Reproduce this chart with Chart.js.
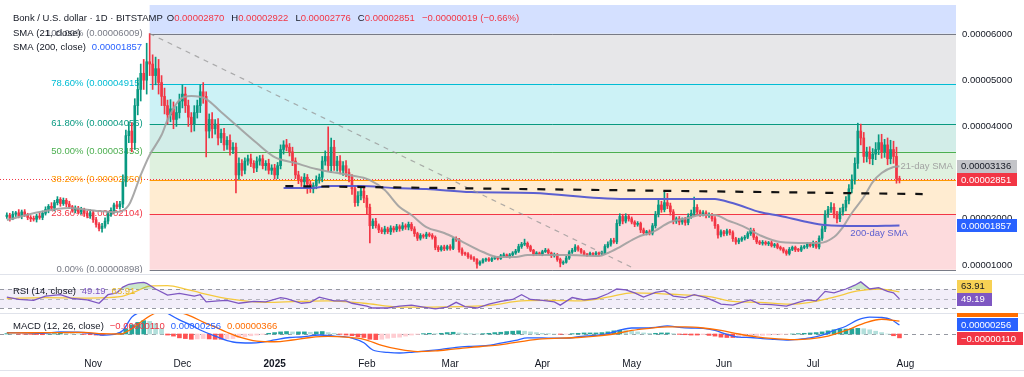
<!DOCTYPE html>
<html>
<head>
<meta charset="utf-8">
<script src="https://cdn.jsdelivr.net/npm/chart.js"></script>
<style>
  body { margin: 0; background: #fff; }
  #wrap { position: relative; width: 1024px; height: 377px; overflow: hidden; background: #fff; }
  canvas { position: absolute; left: 0; }
</style>
</head>
<body>
<div id="wrap">
  <canvas id="main" width="1024" height="268" style="top:5px"></canvas>
  <canvas id="rsi" width="1024" height="38" style="top:274px"></canvas>
  <canvas id="macd" width="1024" height="59" style="top:313px"></canvas>
</div>
<script>
// prices in units of 1e-8 USD, day 0 = 1 Oct 2024
const firstDay = 2;
const firstOpen = 2050;
const closes = [
  2080,2010,2100,2130,2060,2150,2090,2030,2000,1990,
  2060,2030,2120,2200,2270,2230,2350,2420,2330,2400,
  2320,2260,2190,2230,2150,2190,2120,2060,2130,1980,
  1880,1790,1840,1950,2100,2180,2300,2260,2320,2800,
  3800,3900,3650,4450,4800,5150,5000,5400,5350,5100,
  5250,4950,4650,4450,4250,4380,4150,4300,4550,4700,
  4450,4200,4050,4300,4450,4750,4650,3900,4150,3950,
  4050,3750,3850,3600,3700,3500,3550,2950,3200,3050,
  3250,3300,3200,3100,3250,3300,3150,3200,3050,3100,
  2950,3150,3500,3600,3550,3450,3250,2950,2850,2800,
  2900,2750,2650,2720,2850,2900,3250,3350,3150,3550,
  3150,3250,3050,3150,3000,2900,2650,2350,2500,2600,
  2450,2250,1850,1950,1850,1760,1720,1780,1720,1800,
  1760,1830,1790,1850,1820,1880,1780,1680,1580,1640,
  1620,1670,1640,1600,1380,1330,1390,1350,1400,1360,
  1560,1550,1330,1250,1240,1180,1150,1120,1020,1060,
  1110,1130,1100,1140,1160,1140,1200,1220,1180,1220,
  1260,1300,1400,1450,1470,1400,1320,1240,1260,1230,
  1290,1320,1260,1200,1230,1120,1040,1060,1150,1280,
  1320,1390,1340,1280,1230,1220,1250,1230,1260,1240,
  1270,1400,1450,1530,1500,1900,2050,1950,2050,2000,
  1930,1880,1900,1760,1700,1720,1690,1850,2100,2300,
  2200,2350,2280,2150,1950,2000,1930,1980,1920,2050,
  2120,2250,2150,2100,2130,2070,2080,2000,1850,1650,
  1720,1680,1740,1700,1570,1500,1540,1580,1600,1680,
  1750,1600,1500,1470,1490,1460,1480,1420,1440,1380,
  1350,1300,1250,1340,1380,1330,1320,1380,1400,1450,
  1420,1480,1390,1580,1780,2100,2200,2250,2100,2000,
  2150,2250,2400,2650,2850,3200,3900,3750,3350,3450,
  3300,3400,3500,3650,3450,3600,3300,3500,3350,2870,2851
];
const wickUp = [
  50,40,60,30,70,40,50,30,40,60,
  40,70,50,60,40,80,50,60,40,50,
  40,60,30,50,40,60,40,50,70,40,
  50,40,60,70,50,60,40,80,60,150,
  120,200,180,150,250,200,300,400,609,200,
  250,200,150,180,120,200,150,130,150,200,
  150,120,100,150,120,150,200,100,120,150,
  100,120,90,110,80,120,100,90,120,80,
  70,80,100,60,90,70,80,60,90,70,
  80,70,100,90,120,80,100,70,80,60,
  80,60,70,60,80,70,100,120,640,200,
  150,100,120,90,110,80,60,70,90,100,
  120,60,70,50,60,40,50,60,40,50,
  40,50,40,70,40,50,40,50,30,40,
  30,40,30,40,30,40,30,40,30,40,
  40,50,30,40,30,30,40,30,20,30,
  30,20,30,20,30,20,30,40,20,30,
  30,40,50,40,90,30,30,20,30,20,
  30,40,30,20,30,20,30,30,40,30,
  40,50,30,20,30,20,30,20,30,20,
  30,40,50,40,50,80,60,50,60,40,
  40,30,40,30,40,30,40,50,60,100,
  80,230,200,60,50,40,50,40,50,60,
  70,220,60,40,50,40,50,40,50,30,
  40,30,40,30,40,30,40,30,40,40,
  50,40,30,30,40,30,30,40,30,30,
  30,30,30,40,30,30,30,40,30,40,
  30,40,30,50,60,80,70,100,80,60,
  80,70,80,90,100,120,170,150,120,100,
  110,120,150,170,180,120,150,200,180,200,52
];
const wickDown = [
  40,60,30,50,40,60,40,50,60,40,
  60,40,50,40,70,40,60,50,60,40,
  60,40,50,60,40,50,70,40,50,60,
  60,50,80,40,60,50,60,40,50,80,
  100,150,200,150,200,250,200,300,250,300,
  200,250,200,180,200,150,200,150,120,150,
  150,200,170,150,120,150,150,560,150,200,
  120,150,100,120,100,120,90,390,100,120,
  80,90,70,100,80,90,70,100,80,90,
  90,80,70,100,80,90,100,80,90,100,
  120,200,80,90,70,80,100,90,120,150,
  100,120,80,110,90,100,120,80,70,90,
  100,150,370,60,50,60,40,50,40,60,
  50,40,60,40,50,60,40,60,50,40,
  40,50,30,40,50,40,30,40,30,40,
  30,40,50,40,30,40,30,40,90,30,
  20,30,20,30,20,30,20,30,20,30,
  20,30,30,40,30,40,30,40,30,20,
  30,20,30,40,30,40,80,30,20,30,
  30,30,40,30,20,30,20,30,20,30,
  20,30,30,40,30,40,50,60,40,50,
  40,50,40,60,40,50,40,40,50,60,
  60,50,60,70,60,50,60,50,60,50,
  40,50,60,50,40,50,40,50,60,70,
  40,50,40,50,60,50,40,30,40,30,
  40,50,40,30,40,30,40,30,40,30,
  30,40,40,35,30,40,30,30,30,40,
  30,40,30,40,50,60,70,60,80,90,
  60,70,80,80,90,100,110,150,130,120,
  110,130,120,110,140,120,130,110,150,100,75
];

const sma21Days = [2,13,23,33,39,43,47,50,54,56,60,64,69,74,79,86,92,99,106,111,117,124,129,134,138,143,149,154,162,167,173,177,190,201,204,208,214,219,225,231,235,240,244,250,255,262,271,275,280,283,286,290,293,296,300,302];
const sma21Vals = [1973,2146,2233,2168,2146,2298,2947,3380,3813,4138,4571,4658,4593,4311,4030,3640,3337,3207,3077,3012,2947,2839,2623,2254,2081,1822,1692,1540,1281,1172,1172,1215,1215,1194,1259,1389,1605,1713,1930,2016,2081,2081,1973,1822,1648,1497,1475,1475,1605,1822,2125,2471,2796,2991,3121,3136];
const sma200Days = [95,104,111,121,132,143,158,179,201,210,240,242,248,255,262,271,277,288,302];
const sma200Vals = [2666,2666,2709,2709,2666,2644,2579,2558,2449,2428,2428,2406,2298,2146,2060,1930,1865,1843,1857];

const fibStartDay = 50;
const fibLevels = [898, 2104, 2850, 3453, 4056, 4915, 6009];
const fibNames = ['0.00%', '23.60%', '38.20%', '50.00%', '61.80%', '78.60%', '100.00%'];
const trendDays = [50, 213];
const trendVals = [6009, 920];
const levelDays = [95.6, 309.8];
const levelVals = [2709, 2536];
const priceTicks = [1000, 2000, 3000, 4000, 5000, 6000];

const rsiDays = [2,6,11,15,20,24,29,33,36,39,41,43,46,48,49,52,56,60,65,67,69,73,76,80,85,89,94,96,101,104,107,112,116,118,123,125,130,134,138,142,146,150,153,156,160,164,168,172,175,178,182,186,188,192,196,200,204,207,210,213,216,220,223,226,230,233,237,240,242,246,250,252,255,259,264,268,271,274,277,280,284,287,289,292,295,298,300,302];
const rsiVals = [53,48,46,55,58,50,47,40,58,62,74,80,83,84,82,70,57,61,55,58,43,45,46,40,44,43,52,50,40,42,53,45,45,40,34,30,30,34,36,32,28,32,42,33,30,38,44,48,58,48,46,43,36,52,47,50,60,70,68,62,53,63,66,55,52,58,52,44,38,36,44,47,38,37,34,42,47,45,65,62,70,78,85,70,73,65,62,49.19];
const rsiMaDays = [2,15,30,40,45,50,56,62,67,78,89,100,110,122,134,145,155,165,175,185,195,205,212,220,228,238,246,255,265,272,280,288,295,302];
const rsiMaVals = [50,52,51,54,64,76,77,70,62,48,42,44,45,40,32,32,33,36,45,46,45,54,62,61,58,54,44,42,38,42,53,66,70,63.91];

const macdDays = [2,8,14,20,26,31,34,38,41,44,47,51,54,56,60,64,67,72,78,84,88,92,97,101,107,112,118,122,125,130,134,138,143,148,153,158,163,168,173,177,182,186,190,195,200,204,208,212,216,220,224,228,232,236,240,244,248,252,256,260,264,268,272,276,280,284,288,292,296,299,302];
const macdVals = [40,30,20,60,50,10,-30,-10,100,480,640,900,700,590,400,250,114,-60,-227,-256,-230,-170,-100,-85,-28,-60,-114,-250,-455,-520,-540,-520,-480,-440,-380,-350,-330,-260,-180,-110,-110,-120,-120,-70,-40,10,110,170,170,190,230,190,170,160,100,-10,-90,-100,-130,-150,-170,-150,-110,-30,100,220,400,480,470,420,256];
const signalDays = [2,10,20,28,34,40,44,48,52,56,60,64,68,72,76,80,86,92,98,104,110,116,122,128,134,140,146,152,158,164,170,176,182,188,194,200,206,212,218,224,230,236,242,248,254,260,266,272,278,284,290,296,302];
const signalVals = [30,35,40,45,10,0,150,400,600,700,620,500,340,200,50,-80,-200,-220,-170,-100,-70,-90,-150,-320,-440,-500,-480,-430,-380,-340,-280,-200,-140,-120,-100,-60,0,100,160,200,200,170,100,0,-80,-130,-160,-140,-60,100,300,420,366];
// histogram, one bar every 2 days from day 2
const histStep = 2;
const histVals = [
  10,0,-5,-5,-10,-15,-20,0,10,20,
  15,10,5,-10,-20,-30,-40,-20,-10,30,
  150,260,330,380,360,300,160,-30,-60,-110,
  -130,-150,-140,-130,-140,-150,-150,-140,-130,-100,
  -80,-50,-30,-10,20,40,60,70,60,60,
  60,50,60,70,40,20,-10,-30,-50,-80,
  -100,-150,-160,-150,-120,-100,-90,-60,-30,-10,
  10,20,10,20,40,50,30,20,10,5,
  10,20,40,50,70,80,90,80,60,40,
  20,10,0,-10,-5,10,20,30,30,30,
  40,60,90,110,100,80,60,30,20,20,
  30,30,10,-10,-20,-30,-30,-20,-40,-60,
  -90,-100,-100,-90,-70,-60,-50,-40,-30,-20,
  -10,-5,0,10,20,30,40,60,90,120,
  140,140,150,160,150,120,80,40,0,-50,
  -110
];

const monthDays = [31, 61, 92, 123, 151, 182, 212, 243, 273, 304];
const monthNames = ['Nov', 'Dec', '2025', 'Feb', 'Mar', 'Apr', 'May', 'Jun', 'Jul', 'Aug'];

const FONT = '"Liberation Sans", Arial, sans-serif';
const F = '9.5px ' + FONT;
const UP = '#089981', DOWN = '#f23645';
const INK = '#131722';
const fibColors = ['#787b86', '#f23645', '#ff9800', '#4caf50', '#089981', '#00bcd4', '#787b86'];
const zoneFills = ['rgba(242,54,69,0.18)', 'rgba(255,152,0,0.18)', 'rgba(76,175,80,0.18)',
  'rgba(8,153,129,0.18)', 'rgba(0,188,212,0.2)', 'rgba(120,123,134,0.18)', 'rgba(41,98,255,0.2)'];
const fmt = v => (v / 1e8).toFixed(8);
const pts = (xs, ys) => xs.map((x, i) => ({ x: x, y: ys[i] }));

const opens = closes.map((c, i) => i === 0 ? firstOpen : closes[i - 1]);
const bodies = closes.map((c, i) => ({ x: firstDay + i, y: [opens[i], c] }));
const wicks = closes.map((c, i) => ({
  x: firstDay + i,
  y: [Math.min(opens[i], c) - wickDown[i], Math.max(opens[i], c) + wickUp[i]]
}));
const candleColors = closes.map((c, i) => c >= opens[i] ? UP : DOWN);
const lastClose = closes[closes.length - 1];

function text(ctx, s, x, y, color, align) {
  ctx.fillStyle = color;
  ctx.textAlign = align || 'left';
  ctx.textBaseline = 'middle';
  ctx.fillText(s, x, y);
  return ctx.measureText(s).width;
}
function tag(ctx, y, s, bg, fg, w) {
  ctx.fillStyle = bg;
  ctx.fillRect(957, Math.round(y - 6.5), w, 13);
  text(ctx, s, 961, y + 0.5, fg);
}
function hLine(ctx, y, x0, x1, color, dash) {
  ctx.save();
  ctx.strokeStyle = color;
  ctx.lineWidth = 1;
  ctx.setLineDash(dash || []);
  ctx.beginPath();
  ctx.moveTo(x0, Math.round(y) + 0.5);
  ctx.lineTo(x1, Math.round(y) + 0.5);
  ctx.stroke();
  ctx.restore();
}

const xAxis = { type: 'linear', min: -0.3, max: 321, offset: false, display: false };
function sideAxis(min, max, extra) {
  return Object.assign({
    position: 'right', min: min, max: max,
    grid: { display: false, drawTicks: false }, border: { display: false },
    ticks: { display: false },
    afterFit: s => { s.width = 68; s.paddingTop = 0; s.paddingBottom = 0; }
  }, extra || {});
}
const base = {
  responsive: false, animation: false, devicePixelRatio: 1,
  layout: { padding: 0 },
  plugins: { legend: { display: false }, tooltip: { enabled: false } }
};

const mainDecor = {
  id: 'mainDecor',
  beforeDatasetsDraw(chart) {
    const { ctx, chartArea: a, scales: { x, y } } = chart;
    const x0 = x.getPixelForValue(fibStartDay);
    ctx.save();
    fibLevels.forEach((lv, i) => {
      const top = i < fibLevels.length - 1 ? y.getPixelForValue(fibLevels[i + 1]) : a.top;
      const bot = y.getPixelForValue(lv);
      ctx.fillStyle = zoneFills[i];
      ctx.fillRect(x0, top, a.right - x0, bot - top);
    });
    fibLevels.forEach((lv, i) => hLine(ctx, y.getPixelForValue(lv), x0, a.right, fibColors[i]));
    ctx.font = F;
    fibLevels.forEach((lv, i) => {
      text(ctx, fibNames[i] + ' (' + fmt(lv) + ')', x0 - 7, y.getPixelForValue(lv) - 0.5, fibColors[i], 'right');
    });
    ctx.restore();
  },
  afterDatasetsDraw(chart) {
    const { ctx, scales: { x, y } } = chart;
    ctx.save();
    ctx.font = F;
    let px = 13;
    px += text(ctx, 'Bonk / U.S. dollar · 1D · BITSTAMP', px, 13, INK) + 4;
    [['O', '0.00002870'], ['H', '0.00002922'], ['L', '0.00002776'], ['C', '0.00002851']].forEach(p => {
      px += text(ctx, p[0], px, 13, INK);
      px += text(ctx, p[1], px, 13, DOWN) + 7;
    });
    text(ctx, '\u22120.00000019 (\u22120.66%)', px, 13, DOWN);
    text(ctx, 'SMA (21, close)', 13, 28, INK);
    const w = text(ctx, 'SMA (200, close)', 13, 42, INK);
    text(ctx, '0.00001857', 13 + w + 6, 42, '#2962ff');
    text(ctx, '21-day SMA', x.getPixelForValue(302) + 1, y.getPixelForValue(3136), '#a3a3a3');
    text(ctx, '200-day SMA', x.getPixelForValue(285.5), y.getPixelForValue(1857) + 8, '#5b5fd0');
    ctx.restore();
  },
  afterDraw(chart) {
    const { ctx, scales: { y } } = chart;
    ctx.save();
    ctx.font = F;
    tag(ctx, y.getPixelForValue(3136), '0.00003136', '#c3c4c8', INK, 60);
    tag(ctx, y.getPixelForValue(lastClose), fmt(lastClose), DOWN, '#fff', 60);
    tag(ctx, y.getPixelForValue(1857), '0.00001857', '#2962ff', '#fff', 60);
    ctx.restore();
  }
};

new Chart(document.getElementById('main'), {
  type: 'bar',
  data: {
    datasets: [
      { type: 'line', data: [{ x: -0.3, y: lastClose }, { x: 321, y: lastClose }], borderColor: DOWN,
        borderWidth: 1, borderDash: [1, 2], pointRadius: 0, order: 9 },
      { type: 'bar', data: wicks, backgroundColor: candleColors, barThickness: 1, grouped: false, order: 8 },
      { type: 'bar', data: bodies, backgroundColor: candleColors, barThickness: 2, grouped: false,
        minBarLength: 1, order: 7 },
      { type: 'line', data: pts(sma21Days, sma21Vals), borderColor: 'rgba(160,160,160,0.9)', borderWidth: 2,
        pointRadius: 0, cubicInterpolationMode: 'monotone', order: 4 },
      { type: 'line', data: pts(sma200Days, sma200Vals), borderColor: '#5b5fd0', borderWidth: 2,
        pointRadius: 0, cubicInterpolationMode: 'monotone', order: 3 },
      { type: 'line', data: pts(levelDays, levelVals), borderColor: '#111', borderWidth: 2.2,
        borderDash: [8, 10], pointRadius: 0, order: 2 },
      { type: 'line', data: pts(trendDays, trendVals), borderColor: 'rgba(150,150,150,0.75)', borderWidth: 1.2,
        borderDash: [5, 5], pointRadius: 0, order: 2 }
    ]
  },
  options: Object.assign({}, base, {
    scales: {
      x: xAxis,
      y: sideAxis(827, 6628, {
        afterBuildTicks: s => { s.ticks = priceTicks.map(v => ({ value: v })); },
        ticks: { display: true, callback: v => fmt(v), color: INK, padding: 6, font: { size: 9.5, family: FONT } }
      })
    }
  }),
  plugins: [mainDecor]
});

const rsiDecor = {
  id: 'rsiDecor',
  beforeDatasetsDraw(chart) {
    const { ctx, chartArea: a, scales: { y } } = chart;
    ctx.save();
    ctx.fillStyle = 'rgba(126,87,194,0.1)';
    ctx.fillRect(a.left, y.getPixelForValue(70), a.right - a.left, y.getPixelForValue(30) - y.getPixelForValue(70));
    [70, 50, 30].forEach(v => hLine(ctx, y.getPixelForValue(v), a.left, a.right, v === 50 ? 'rgba(120,123,134,0.5)' : '#9598a1', [4, 4]));
    ctx.restore();
  },
  afterDraw(chart) {
    const { ctx } = chart;
    ctx.save();
    hLine(ctx, 0, 0, 1024, '#e0e3eb');
    ctx.font = F;
    let px = 13;
    px += text(ctx, 'RSI (14, close)', px, 17, INK) + 6;
    px += text(ctx, '49.19', px, 17, '#7e57c2') + 6;
    text(ctx, '63.91', px, 17, '#e8b923');
    tag(ctx, 25, '49.19', '#7e57c2', '#fff', 35);
    tag(ctx, 12, '63.91', '#f7d154', INK, 35);
    ctx.restore();
  }
};

new Chart(document.getElementById('rsi'), {
  type: 'line',
  data: {
    datasets: [
      { data: pts(rsiDays, rsiVals), borderColor: '#7e57c2', borderWidth: 1.3, pointRadius: 0, order: 1,
        fill: { target: { value: 70 }, above: 'rgba(76,175,80,0.3)', below: 'rgba(0,0,0,0)' } },
      { data: pts(rsiMaDays, rsiMaVals), borderColor: '#f5c93e', borderWidth: 1.3, pointRadius: 0,
        cubicInterpolationMode: 'monotone', order: 2 }
    ]
  },
  options: Object.assign({}, base, { scales: { x: xAxis, y: sideAxis(21.6, 101.6) } }),
  plugins: [rsiDecor]
});

const histData = histVals.map((v, i) => ({ x: firstDay + i * histStep, y: v }));
const histColors = histVals.map((v, i) => {
  const prev = i > 0 ? histVals[i - 1] : v;
  if (v >= 0) return v >= prev ? '#26a69a' : '#b2dfdb';
  return v <= prev ? '#ff5252' : '#ffcdd2';
});

const macdDecor = {
  id: 'macdDecor',
  beforeDatasetsDraw(chart) {
    const { ctx, chartArea: a, scales: { y } } = chart;
    hLine(ctx, y.getPixelForValue(0), a.left, a.right, '#9598a1', [4, 4]);
  },
  afterDraw(chart) {
    const { ctx } = chart;
    ctx.save();
    hLine(ctx, 0, 0, 1024, '#e0e3eb');
    hLine(ctx, 57, 0, 1024, '#e0e3eb');
    ctx.font = F;
    let px = 13;
    px += text(ctx, 'MACD (12, 26, close)', px, 13, INK) + 6;
    px += text(ctx, '\u22120.00000110', px, 13, DOWN) + 6;
    px += text(ctx, '0.00000256', px, 13, '#2962ff') + 6;
    text(ctx, '0.00000366', px, 13, '#ff6d00');
    tag(ctx, -3, '0.00000366', '#ff6d00', '#fff', 61);
    tag(ctx, 11.5, '0.00000256', '#2962ff', '#fff', 61);
    tag(ctx, 25.5, '\u22120.00000110', DOWN, '#fff', 66);
    ctx.restore();
  }
};

new Chart(document.getElementById('macd'), {
  type: 'bar',
  data: {
    datasets: [
      { type: 'bar', data: histData, backgroundColor: histColors, barThickness: 4, grouped: false, order: 3 },
      { type: 'line', data: pts(macdDays, macdVals), borderColor: '#2962ff', borderWidth: 1.3, pointRadius: 0,
        cubicInterpolationMode: 'monotone', order: 2 },
      { type: 'line', data: pts(signalDays, signalVals), borderColor: '#ff6d00', borderWidth: 1.3, pointRadius: 0,
        cubicInterpolationMode: 'monotone', order: 1 }
    ]
  },
  options: Object.assign({}, base, {
    scales: {
      x: {
        type: 'linear', min: -0.3, max: 321, offset: false, position: 'bottom',
        grid: { display: false, drawTicks: false }, border: { display: false },
        afterBuildTicks: s => { s.ticks = monthDays.map(v => ({ value: v })); },
        afterFit: s => { s.height = 17; s.paddingLeft = 0; s.paddingRight = 0; },
        ticks: {
          autoSkip: false, maxRotation: 0, padding: 3, color: INK,
          callback: (v, i) => monthNames[i],
          font: c => ({ size: 10, family: FONT, weight: c.tick && c.tick.value === 92 ? 'bold' : 'normal' })
        }
      },
      y: sideAxis(-597, 597)
    }
  }),
  plugins: [macdDecor]
});
</script>
</body>
</html>
